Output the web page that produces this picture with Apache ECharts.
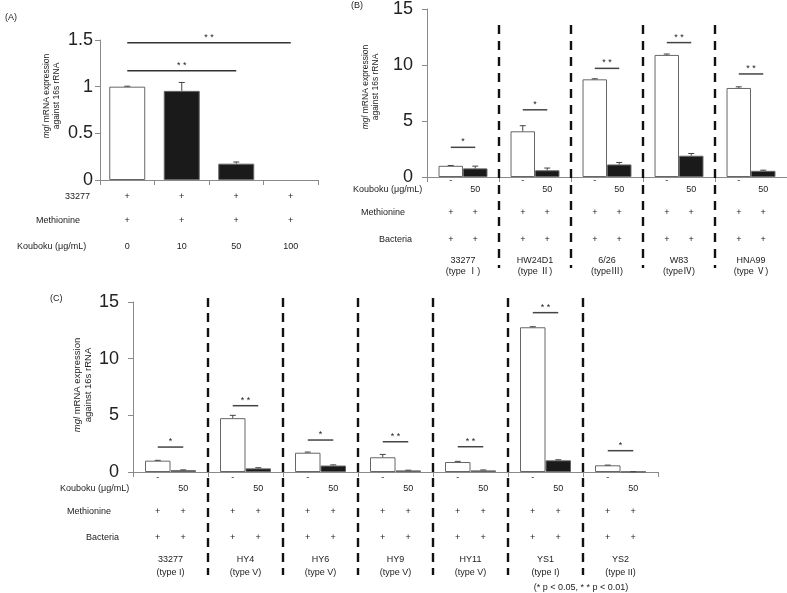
<!DOCTYPE html>
<html>
<head>
<meta charset="utf-8">
<script src="https://cdn.jsdelivr.net/npm/echarts/dist/echarts.min.js"></script>
<style>
html, body { margin: 0; padding: 0; background: #fff; }
#main { width: 787px; height: 593px; }
</style>
</head>
<body>
<div id="main"></div>
<script>
// ---- panel A : 33277, kouboku dose response
var aDoses = ['0', '10', '50', '100'];
var aValues = [1.0, 0.955, 0.175, 0];
var aErrors = [0.005, 0.09, 0.018, 0];
var aStrainRow = ['+', '+', '+', '+'];
var aMethRow = ['+', '+', '+', '+'];
var aSig = [[0, 3, 1.47], [0, 2, 1.17]]; // from cat, to cat, height
var aSigText = ['* *', '* *'];

// ---- panel B : strain types
var bStrains = ['33277', 'HW24D1', '6/26', 'W83', 'HNA99'];
var bTypes = ['(type Ⅰ)', '(type Ⅱ)', '(typeⅢ)', '(typeⅣ)', '(type Ⅴ)'];
var bControl = [1.0, 4.08, 8.72, 10.9, 7.95];
var bControlErr = [0.03, 0.5, 0.05, 0.08, 0.1];
var bKouboku = [0.77, 0.6, 1.12, 1.9, 0.55];
var bKoubokuErr = [0.2, 0.2, 0.18, 0.2, 0.06];
var bSig = [2.65, 6.0, 9.7, 12.0, 9.2];
var bSigText = ['*', '*', '* *', '* *', '* *'];

// ---- panel C : clinical isolates
var cStrains = ['33277', 'HY4', 'HY6', 'HY9', 'HY11', 'YS1', 'YS2'];
var cTypes = ['(type I)', '(type V)', '(type V)', '(type V)', '(type V)', '(type I)', '(type II)'];
var cControl = [1.0, 4.75, 1.7, 1.3, 0.88, 12.77, 0.59];
var cControlErr = [0.03, 0.25, 0.06, 0.25, 0.06, 0.05, 0.02];
var cKouboku = [0.16, 0.32, 0.57, 0.14, 0.14, 1.03, 0.03];
var cKoubokuErr = [0.03, 0.06, 0.06, 0.02, 0.04, 0.05, 0];
var cSig = [2.2, 5.85, 2.82, 2.67, 2.23, 14.06, 1.88];
var cSigText = ['*', '* *', '*', '* *', '* *', '* *', '*'];

// rows under B and C
var doseLabels = ['-', '50'];
var methionine = ['+', '+'];
var bacteria = ['+', '+'];

var FONT = '"Liberation Sans", Arial, "Noto Sans CJK JP", sans-serif';
var AXIS_COLOR = '#8a8a8a';
var BAR_FRAC = 0.34;

function txt(x, y, s, size, align) {
	return {
		type: 'text',
		style: { x: x, y: y, text: s, align: align || 'center', verticalAlign: 'middle',
			fontSize: size || 9, fontFamily: FONT, fill: '#222' }
	};
}

function xAxisCfg(grid, cats) {
	return {
		type: 'category', gridIndex: grid, data: cats,
		axisLine: { show: true, lineStyle: { color: AXIS_COLOR, width: 1 } },
		axisTick: { show: true, length: 5, lineStyle: { color: AXIS_COLOR } },
		axisLabel: { show: false }
	};
}
function yAxisCfg(grid, max, interval, margin) {
	return {
		type: 'value', gridIndex: grid, min: 0, max: max, interval: interval,
		splitLine: { show: false },
		axisLine: { show: true, lineStyle: { color: AXIS_COLOR, width: 1 } },
		axisTick: { show: true, length: 5, lineStyle: { color: AXIS_COLOR } },
		axisLabel: { margin: margin, fontSize: 18, color: '#222', fontFamily: FONT }
	};
}

// upper error bars, side -1 = left bar of pair, 1 = right bar, 0 = single bar
function errorSeries(grid, vals, errs, side) {
	return {
		type: 'custom', xAxisIndex: grid, yAxisIndex: grid, z: 5, silent: true,
		data: vals.map(function (v, i) { return [i, v, errs[i]]; }),
		renderItem: function (params, api) {
			var i = api.value(0), v = api.value(1), e = api.value(2);
			if (!v) return null;
			var half = api.size([1, 0])[0] * BAR_FRAC / 2;
			var x = api.coord([i, 0])[0] + side * half;
			var y0 = api.coord([i, v])[1], y1 = api.coord([i, v + e])[1];
			var st = { stroke: '#444', lineWidth: 1 };
			return { type: 'group', children: [
				{ type: 'line', shape: { x1: x, y1: y0, x2: x, y2: y1 }, style: st },
				{ type: 'line', shape: { x1: x - 3, y1: y1, x2: x + 3, y2: y1 }, style: st }
			] };
		}
	};
}

// significance bar between the two bars of a pair
function sigSeries(grid, heights, texts) {
	return {
		type: 'custom', xAxisIndex: grid, yAxisIndex: grid, z: 5, silent: true,
		data: heights.map(function (h, i) { return [i, h]; }),
		renderItem: function (params, api) {
			var i = api.value(0);
			var c = api.coord([i, api.value(1)]);
			var half = api.size([1, 0])[0] * BAR_FRAC / 2;
			return { type: 'group', children: [
				{ type: 'line', shape: { x1: c[0] - half, y1: c[1], x2: c[0] + half, y2: c[1] },
					style: { stroke: '#444', lineWidth: 1.5 } },
				{ type: 'text', style: { x: c[0], y: c[1] - 1, text: texts[i], align: 'center',
					verticalAlign: 'bottom', fontSize: 9, fontFamily: FONT, fill: '#222' } }
			] };
		}
	};
}

// dashed separators between strains
function sepSeries(grid, n, max, topOff, botOff, dash) {
	var idx = [];
	for (var i = 0; i < n - 1; i++) idx.push([i, 0]);
	return {
		type: 'custom', xAxisIndex: grid, yAxisIndex: grid, z: 6, silent: true, clip: false,
		data: idx,
		renderItem: function (params, api) {
			var i = api.value(0);
			var x = api.coord([i, 0])[0] + api.size([1, 0])[0] / 2;
			var yTop = api.coord([i, max])[1] + topOff;
			var yBot = api.coord([i, 0])[1] + botOff;
			return { type: 'line', shape: { x1: x, y1: yTop, x2: x, y2: yBot },
				style: { stroke: '#111', lineWidth: 2.4, lineDash: dash } };
		}
	};
}

// condition rows under B / C
function rowSeries(grid, strains, types, off) {
	return {
		type: 'custom', xAxisIndex: grid, yAxisIndex: grid, silent: true, clip: false,
		data: strains.map(function (s, i) { return [i, 0]; }),
		renderItem: function (params, api) {
			var i = api.value(0);
			var c = api.coord([i, 0]);
			var half = api.size([1, 0])[0] * BAR_FRAC / 2;
			var xs = [c[0] - half, c[0] + half];
			var kids = [];
			for (var k = 0; k < 2; k++) {
				kids.push(txt(xs[k], c[1] + off.dose[k], doseLabels[k]));
				kids.push(txt(xs[k], c[1] + off.met, methionine[k]));
				kids.push(txt(xs[k], c[1] + off.bac, bacteria[k]));
			}
			kids.push(txt(c[0], c[1] + off.name, strains[i]));
			kids.push(txt(c[0], c[1] + off.type, types[i]));
			return { type: 'group', children: kids };
		}
	};
}

var chart = echarts.init(document.getElementById('main'));
var yName = '{i|mgl} mRNA expression\nagainst 16s rRNA';
function yNameText(x, y, size) {
	return {
		type: 'text', x: x, y: y, rotation: Math.PI / 2,
		style: { text: yName, align: 'center', verticalAlign: 'middle', fontSize: size,
			lineHeight: size + 1.5, fontFamily: FONT, fill: '#222',
			rich: { i: { fontStyle: 'italic', fontSize: size, fontFamily: FONT } } }
	};
}
function label(x, y, s, align) {
	return { type: 'text', x: x, y: y,
		style: { text: s, align: align || 'left', verticalAlign: 'middle', fontSize: 9,
			fontFamily: FONT, fill: '#222' } };
}

var option = {
	animation: false,
	backgroundColor: '#fff',
	grid: [
		{ left: 100, top: 40, width: 218, height: 140 },
		{ left: 427, top: 7, width: 360, height: 170 },
		{ left: 133, top: 302, width: 525, height: 170 }
	],
	xAxis: [xAxisCfg(0, aDoses), xAxisCfg(1, bStrains), xAxisCfg(2, cStrains)],
	yAxis: [yAxisCfg(0, 1.5, 0.5, 7), yAxisCfg(1, 15, 5, 14), yAxisCfg(2, 15, 5, 14)],
	graphic: [
		label(5, 18, '(A)'),
		label(351, 6, '(B)'),
		label(50, 299, '(C)'),
		yNameText(52, 96, 8.5),
		yNameText(371, 87, 8.5),
		yNameText(83, 385, 9.5),
		label(90, 197, '33277', 'right'),
		label(36, 221, 'Methionine'),
		label(17, 247, 'Kouboku (μg/mL)'),
		label(353, 190, 'Kouboku (μg/mL)'),
		label(361, 213, 'Methionine'),
		label(379, 240, 'Bacteria'),
		label(60, 489, 'Kouboku (μg/mL)'),
		label(67, 512, 'Methionine'),
		label(86, 538, 'Bacteria'),
		label(581, 588, '(* p < 0.05, * * p < 0.01)', 'center')
	],
	series: [
		// A
		{
			type: 'bar', xAxisIndex: 0, yAxisIndex: 0, barWidth: '66%',
			data: aValues.map(function (v, i) {
				return { value: v, itemStyle: { color: i === 0 ? '#fff' : '#1a1a1a',
					borderWidth: v ? 1 : 0 } };
			}),
			itemStyle: { borderColor: '#666', borderWidth: 1 }
		},
		errorSeries(0, aValues, aErrors, 0),
		{
			type: 'custom', xAxisIndex: 0, yAxisIndex: 0, silent: true, z: 5,
			data: aSig,
			renderItem: function (params, api) {
				var p1 = api.coord([api.value(0), api.value(2)]);
				var p2 = api.coord([api.value(1), api.value(2)]);
				return { type: 'group', children: [
					{ type: 'line', shape: { x1: p1[0], y1: p1[1], x2: p2[0], y2: p2[1] },
						style: { stroke: '#333', lineWidth: 1.5 } },
					{ type: 'text', style: { x: (p1[0] + p2[0]) / 2, y: p1[1] - 1,
						text: aSigText[params.dataIndex], align: 'center', verticalAlign: 'bottom',
						fontSize: 9, fontFamily: FONT, fill: '#222' } }
				] };
			}
		},
		{
			type: 'custom', xAxisIndex: 0, yAxisIndex: 0, silent: true, clip: false,
			data: aDoses.map(function (d, i) { return [i, 0]; }),
			renderItem: function (params, api) {
				var i = api.value(0);
				var c = api.coord([i, 0]);
				return { type: 'group', children: [
					txt(c[0], c[1] + 17, aStrainRow[i]),
					txt(c[0], c[1] + 41, aMethRow[i]),
					txt(c[0], c[1] + 67, aDoses[i])
				] };
			}
		},
		// B
		{
			type: 'bar', xAxisIndex: 1, yAxisIndex: 1, barWidth: '34%', barGap: '0%',
			data: bControl, itemStyle: { color: '#fff', borderColor: '#666', borderWidth: 1 }
		},
		{
			type: 'bar', xAxisIndex: 1, yAxisIndex: 1, barWidth: '34%', barGap: '0%',
			data: bKouboku, itemStyle: { color: '#1a1a1a', borderColor: '#666', borderWidth: 1 }
		},
		errorSeries(1, bControl, bControlErr, -1),
		errorSeries(1, bKouboku, bKoubokuErr, 1),
		sigSeries(1, bSig, bSigText),
		sepSeries(1, bStrains.length, 15, 16, 91, [9, 7]),
		rowSeries(1, bStrains, bTypes, { dose: [4, 13], met: 36, bac: 63, name: 84, type: 95 }),
		// C
		{
			type: 'bar', xAxisIndex: 2, yAxisIndex: 2, barWidth: '34%', barGap: '0%',
			data: cControl, itemStyle: { color: '#fff', borderColor: '#666', borderWidth: 1 }
		},
		{
			type: 'bar', xAxisIndex: 2, yAxisIndex: 2, barWidth: '34%', barGap: '0%',
			data: cKouboku, itemStyle: { color: '#1a1a1a', borderColor: '#666', borderWidth: 1 }
		},
		errorSeries(2, cControl, cControlErr, -1),
		errorSeries(2, cKouboku, cKoubokuErr, 1),
		sigSeries(2, cSig, cSigText),
		sepSeries(2, cStrains.length, 15, -4, 103, [9, 6]),
		rowSeries(2, cStrains, cTypes, { dose: [6, 17], met: 40, bac: 66, name: 88, type: 101 })
	]
};
chart.setOption(option);
</script>
</body>
</html>
